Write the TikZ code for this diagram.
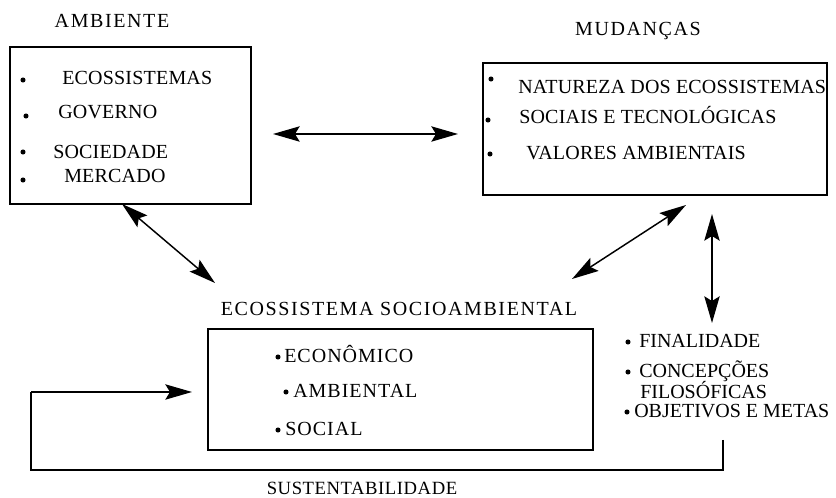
\documentclass[tikz,border=0pt]{standalone}
\usepackage{fontspec}
\setmainfont{Liberation Serif}
\newfontfamily\itemfont[LetterSpace=1]{Liberation Serif}
\newfontfamily\roomyfont[LetterSpace=5]{Liberation Serif}
\newfontfamily\titlefont[LetterSpace=8]{Liberation Serif}
\newfontfamily\footfont[LetterSpace=3]{Liberation Serif}
\usetikzlibrary{arrows.meta}
\tikzset{
  panel/.style={draw, line width=1.5pt, inner sep=0pt},
  heading/.style={anchor=base, inner sep=0pt, font={\fontsize{15}{17}\titlefont}},
  footer/.style={anchor=base, inner sep=0pt, font={\fontsize{14}{16}\footfont}},
  entry/.style={anchor=base west, inner sep=0pt, font={\fontsize{15}{17}\itemfont}},
  roomy/.style={entry, font={\fontsize{15}{17}\roomyfont}},
  plain/.style={entry, font={\fontsize{15}{17}\selectfont}},
  dot/.style={circle, fill, inner sep=0pt, minimum size=3.8pt},
  tip/.tip={Stealth[length=20pt,width=11.5pt,inset=3.5pt]},
  biarrow/.style={tip-tip, line width=1.1pt},
  onearrow/.style={-tip, line width=1.1pt},
  loopline/.style={line width=1.4pt}
}
\begin{document}
\begin{tikzpicture}[x=0.75pt,y=-0.75pt]
\useasboundingbox (0,0) rectangle (836,498);

% --- AMBIENTE ---
\node[heading] (tAmb) at (112,28) {AMBIENTE};
\node[panel, minimum width=180.75pt, minimum height=117.75pt] (amb) at (130.5,125.5) {};
\node[dot] (a1) at (23,80) {};
\node[entry] (e1) at (62,85) {ECOSSISTEMAS};
\node[dot] (a2) at (26,116) {};
\node[entry] (e2) at (58,119) {GOVERNO};
\node[dot] (a3) at (23,152) {};
\node[entry] (e3) at (53,159) {SOCIEDADE};
\node[dot] (a4) at (23,180) {};
\node[entry] (e4) at (64,183) {MERCADO};

% --- MUDANÇAS ---
\node[heading] (tMud) at (638,36) {MUDANÇAS};
\node[panel, minimum width=258pt, minimum height=99pt] (mud) at (655,129) {};
\node[dot] (m1) at (491,79) {};
\node[entry] (f1) at (518,94) {NATUREZA DOS ECOSSISTEMAS};
\node[dot] (m2) at (488,120) {};
\node[entry] (f2) at (519,124) {SOCIAIS E TECNOLÓGICAS};
\node[dot] (m3) at (490,154) {};
\node[entry] (f3) at (526,160) {VALORES AMBIENTAIS};

% --- ECOSSISTEMA SOCIOAMBIENTAL ---
\node[heading] (tEco) at (399,316) {ECOSSISTEMA SOCIOAMBIENTAL};
\node[panel, minimum width=288.75pt, minimum height=90.75pt] (eco) at (400.5,389.5) {};
\node[dot] (s1) at (278,357) {};
\node[roomy] (g1) at (284,363) {ECONÔMICO};
\node[dot] (s2) at (286,392) {};
\node[roomy] (g2) at (293,398) {AMBIENTAL};
\node[dot] (s3) at (278,430) {};
\node[roomy] (g3) at (285,436) {SOCIAL};

% --- right-hand list ---
\node[dot] (r1) at (628,342) {};
\node[plain] (h1) at (639,348) {FINALIDADE};
\node[dot] (r2) at (628,372) {};
\node[plain] (h2) at (639,378) {CONCEPÇÕES};
\node[plain] (h3) at (640,399) {FILOSÓFICAS};
\node[dot] (r3) at (627,412) {};
\node[plain] (h4) at (634,418) {OBJETIVOS E METAS};

% --- SUSTENTABILIDADE ---
\node[footer] (tSus) at (362,495) {SUSTENTABILIDADE};

% connector end points
\coordinate (pAmbR) at (273,134);
\coordinate (pMudL) at (458,134);
\coordinate (pAmbB) at (122,204);
\coordinate (pEcoL) at (215,283);
\coordinate (pMudB) at (686,205);
\coordinate (pEcoR) at (572,279);
\coordinate (pVtop) at (712,214);
\coordinate (pVbot) at (712,323);
\coordinate (qStart) at (723,440);
\coordinate (qRight) at (723,470);
\coordinate (qLeft) at (31,470);
\coordinate (qUp) at (31,392);
\coordinate (qEnd) at (192,392);

% connectors
\draw[biarrow] (pAmbR) -- (pMudL);
\draw[biarrow] (pAmbB) -- (pEcoL);
\draw[biarrow] (pMudB) -- (pEcoR);
\draw[biarrow] (pVtop) -- (pVbot);
\draw[loopline] (qStart) -- (qRight) -- (qLeft) -- (qUp);
\draw[onearrow] (qUp) -- (qEnd);
\end{tikzpicture}
\end{document}
